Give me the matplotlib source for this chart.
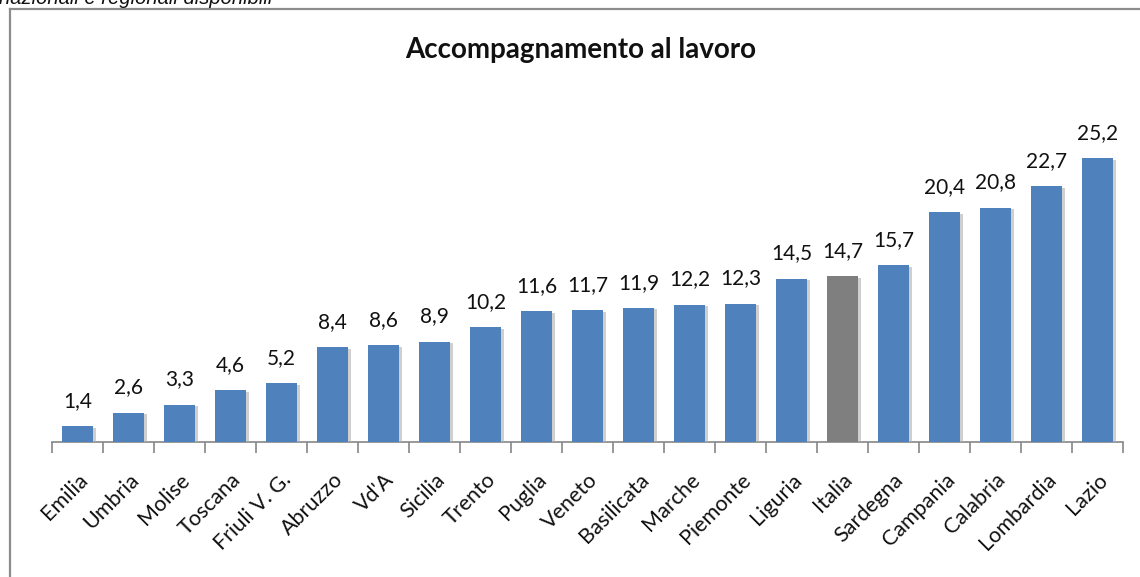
import matplotlib
matplotlib.use("Agg")
import matplotlib.pyplot as plt
from matplotlib.lines import Line2D
from matplotlib.ticker import FixedLocator
import matplotlib.patheffects as pe

regions = ["Emilia", "Umbria", "Molise", "Toscana", "Friuli V. G.", "Abruzzo", "Vd'A",
           "Sicilia", "Trento", "Puglia", "Veneto", "Basilicata", "Marche", "Piemonte",
           "Liguria", "Italia", "Sardegna", "Campania", "Calabria", "Lombardia", "Lazio"]
values = [1.4, 2.6, 3.3, 4.6, 5.2, 8.4, 8.6, 8.9, 10.2, 11.6, 11.7, 11.9, 12.2, 12.3,
          14.5, 14.7, 15.7, 20.4, 20.8, 22.7, 25.2]
highlight = "Italia"
title = "Accompagnamento al lavoro"
header = "nazionali e regionali disponibili"

plt.rcParams['font.family'] = ['Lato', 'DejaVu Sans']

W, H = 1140, 577
fig = plt.figure(figsize=(W / 100, H / 100), dpi=100)

# outer chart frame
fig.add_artist(Line2D([10 / W, 10 / W], [0, 1 - 9 / H], color="#8c8c8c", lw=1.6))
fig.add_artist(Line2D([10 / W, 1], [1 - 9 / H, 1 - 9 / H], color="#8c8c8c", lw=1.6))

# header text (partly cut off at the top, as in the reference)
fig.text(-1 / W, 1 - 4 / H, header, fontsize=14.5, style="italic", ha="left",
         va="baseline", color="#111111", family=["Liberation Sans", "DejaVu Sans"])

ax = fig.add_axes([52 / W, 1 - 442 / H, 1071 / W, 286 / H])
colors = ["#7f7f7f" if r == highlight else "#4f81bd" for r in regions]
x = list(range(len(regions)))
bars = ax.bar(x, values, width=0.59, color=colors, zorder=3)
for b in bars:
    b.set_path_effects([pe.SimplePatchShadow(offset=(2.5, -1), shadow_rgbFace="#b0b0b0", alpha=0.6),
                        pe.Normal()])

for xi, v in zip(x, values):
    ax.annotate(f"{v:.1f}".replace(".", ","), (xi, v), xytext=(0, 11),
                textcoords="offset points", ha="center", va="bottom", fontsize=15,
                color="#111111")

ax.set_xlim(-0.5, len(regions) - 0.5)
ax.set_ylim(0, 25.4)
for s in ["top", "right", "left"]:
    ax.spines[s].set_visible(False)
ax.spines["bottom"].set_color("#868686")
ax.spines["bottom"].set_linewidth(1.2)
ax.set_yticks([])
ax.set_xticks(x)
ax.set_xticklabels(regions, rotation=45, ha="right", rotation_mode="anchor", fontsize=15.5,
                   color="#111111")
ax.tick_params(axis="x", which="major", length=0, pad=20)
ax.xaxis.set_minor_locator(FixedLocator([i - 0.5 for i in range(len(regions) + 1)]))
ax.tick_params(axis="x", which="minor", length=8, width=1.2, color="#868686")

fig.text(581 / W, 1 - 50 / H, title, fontsize=20, fontweight="bold", ha="center",
         va="center", color="#111111")

fig.savefig("out.png", dpi=100)
